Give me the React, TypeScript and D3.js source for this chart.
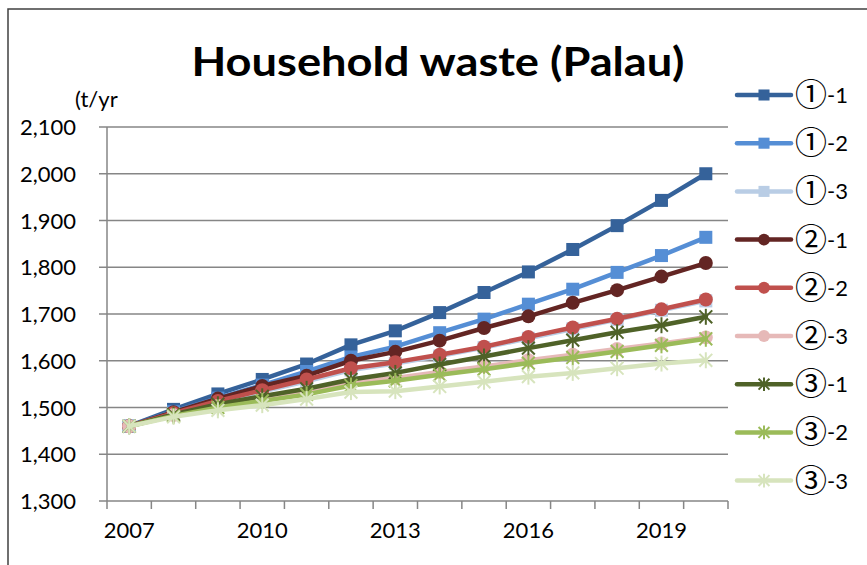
import React from "react";
import * as d3 from "d3";

const years = [2007, 2008, 2009, 2010, 2011, 2012, 2013, 2014, 2015, 2016, 2017, 2018, 2019, 2020];
const yearLabels = ["2007", "2010", "2013", "2016", "2019"];
const yTicks = [1300, 1400, 1500, 1600, 1700, 1800, 1900, 2000, 2100];

const seriesNames = ["①-1", "①-2", "①-3", "②-1", "②-2", "②-3", "③-1", "③-2", "③-3"];
const seriesColors = ["#35629A", "#558ED5", "#B9CDE5", "#632523", "#C0504D", "#E6B9B8", "#4F6228", "#9BBB59", "#D7E4BD"];
const seriesMarkers = ["square", "square", "square", "circle", "circle", "circle", "star", "star", "star"];

const s11 = [1460, 1496, 1529, 1560, 1593, 1634, 1664, 1703, 1746, 1790, 1838, 1889, 1943, 2000];
const s12 = [1460, 1491, 1520, 1548, 1577, 1608, 1630, 1660, 1689, 1721, 1753, 1789, 1825, 1864];
const s13 = [1460, 1487, 1512, 1534, 1556, 1580, 1594, 1610, 1628, 1648, 1668, 1688, 1708, 1728];
const s21 = [1460, 1490, 1519, 1546, 1568, 1600, 1619, 1643, 1670, 1695, 1724, 1751, 1780, 1809];
const s22 = [1460, 1488, 1514, 1537, 1560, 1584, 1597, 1613, 1630, 1651, 1671, 1690, 1710, 1731];
const s23 = [1460, 1484, 1503, 1518, 1533, 1553, 1563, 1576, 1588, 1601, 1613, 1625, 1637, 1650];
const s31 = [1460, 1485, 1507, 1524, 1540, 1560, 1574, 1592, 1609, 1627, 1644, 1661, 1676, 1694];
const s32 = [1460, 1482, 1500, 1514, 1528, 1547, 1557, 1570, 1582, 1595, 1607, 1620, 1633, 1647];
const s33 = [1460, 1480, 1494, 1505, 1518, 1533, 1535, 1545, 1555, 1566, 1574, 1584, 1594, 1601];
const seriesValues = [s11, s12, s13, s21, s22, s23, s31, s32, s33];

const FONT = "Lato, 'Open Sans', sans-serif";
const CJK = "'Noto Sans CJK JP', 'Noto Sans CJK SC', sans-serif";
const AXIS = "#868686";

function Marker({ type, x, y, color, s = 1 }: { type: string; x: number; y: number; color: string; s?: number }) {
  if (type === "square") {
    const h = 6.5 * s;
    return <rect x={x - h} y={y - h} width={2 * h} height={2 * h} fill={color} />;
  }
  if (type === "circle") {
    return <circle cx={x} cy={y} r={7 * s} fill={color} />;
  }
  const r = 8 * s;
  const d = r * 0.8;
  return (
    <g stroke={color} strokeWidth={2}>
      <line x1={x} y1={y - r} x2={x} y2={y + r} />
      <line x1={x - d} y1={y - d} x2={x + d} y2={y + d} />
      <line x1={x - d} y1={y + d} x2={x + d} y2={y - d} />
    </g>
  );
}

export default function App() {
  const left = 107, right = 728, top = 127, bottom = 501;
  const x = d3.scaleBand<number>().domain(years).range([left, right]);
  const cx = (yr: number) => (x(yr) as number) + x.bandwidth() / 2;
  const y = d3.scaleLinear().domain([1300, 2100]).range([bottom, top]);
  const line = d3
    .line<number>()
    .x((_, i) => cx(years[i]))
    .y((v) => y(v));

  const legendY0 = 95;
  const legendStep = 48.2;

  return (
    <svg
      width={867}
      height={565}
      style={{ position: "absolute", left: 0, top: 0, background: "#fff" }}
      fontFamily={FONT}
    >
      <rect x={0} y={0} width={867} height={565} fill="#fff" />
      <rect x={8} y={9} width={900} height={600} fill="none" stroke="#404040" strokeWidth={1.5} />

      <text x={438} y={76} textAnchor="middle" fontSize={41} fontWeight={700} fill="#000" textLength={493} lengthAdjust="spacingAndGlyphs">
        Household waste (Palau)
      </text>
      <text x={75} y={107} fontSize={22} fill="#000">(t/yr</text>

      {yTicks.map((t) => (
        <g key={t}>
          {t > 1300 && <line x1={left} x2={right} y1={y(t)} y2={y(t)} stroke={AXIS} strokeWidth={1.5} />}
          <line x1={left - 8} x2={left} y1={y(t)} y2={y(t)} stroke={AXIS} strokeWidth={1.5} />
          <text x={76} y={y(t) + 8} textAnchor="end" fontSize={22} fill="#000">
            {d3.format(",")(t)}
          </text>
        </g>
      ))}
      <line x1={left} x2={left} y1={top} y2={bottom + 8} stroke={AXIS} strokeWidth={1.5} />
      <line x1={left} x2={right} y1={bottom} y2={bottom} stroke={AXIS} strokeWidth={1.5} />
      {years.map((yr) => (
        <line key={yr} x1={(x(yr) as number) + x.bandwidth()} x2={(x(yr) as number) + x.bandwidth()} y1={bottom} y2={bottom + 8} stroke={AXIS} strokeWidth={1.5} />
      ))}
      {yearLabels.map((l) => (
        <text key={l} x={cx(+l)} y={538} textAnchor="middle" fontSize={22} fill="#000">
          {l}
        </text>
      ))}

      {seriesValues.map((vals, si) => (
        <g key={seriesNames[si]}>
          <path d={line(vals) || ""} fill="none" stroke={seriesColors[si]} strokeWidth={4.5} strokeLinejoin="round" strokeLinecap="round" />
          {vals.map((v, i) => (
            <Marker key={i} type={seriesMarkers[si]} x={cx(years[i])} y={y(v)} color={seriesColors[si]} />
          ))}
        </g>
      ))}

      {seriesNames.map((n, si) => {
        const ly = legendY0 + si * legendStep;
        return (
          <g key={n}>
            <line x1={737} x2={791} y1={ly} y2={ly} stroke={seriesColors[si]} strokeWidth={4.5} strokeLinecap="round" />
            <Marker type={seriesMarkers[si]} x={764} y={ly} color={seriesColors[si]} s={0.85} />
            <text x={795} y={ly + 11} fontSize={22} fill="#000">
              <tspan fontFamily={CJK} fontSize={32}>{n.slice(0, 1)}</tspan>
              <tspan dx={0} dy={-3}>{n.slice(1)}</tspan>
            </text>
          </g>
        );
      })}
    </svg>
  );
}
